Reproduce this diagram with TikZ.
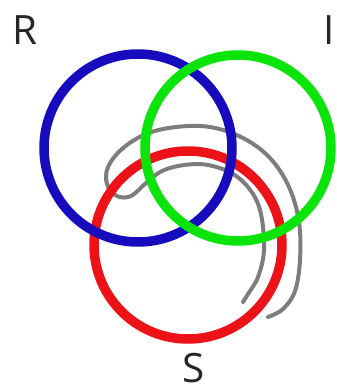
\documentclass[tikz,border=0pt]{standalone}
\usepackage{fontspec}
\setmainfont{Open Sans}
\definecolor{anelloR}{RGB}{22,12,190}
\definecolor{anelloI}{RGB}{10,228,10}
\definecolor{anelloS}{RGB}{236,18,24}
\definecolor{sinthome}{RGB}{125,125,125}
\begin{document}
\begin{tikzpicture}[x=0.02cm, y=-0.02cm,
    anello/.style={line width=0.19cm},
    lettera/.style={font=\fontsize{23}{27}\selectfont, text=black!85, inner sep=0pt}]
    \useasboundingbox (0,0) rectangle (337,392);

    % Sinthome (curva grigia)
    \draw[sinthome, line width=0.08cm, line cap=round]
        plot[smooth, tension=0.6] coordinates {(268,317) (283,309) (295,291) (300,260) (299,222)
        (289,187) (270,158) (243,138) (210,127) (176,127) (146,134) (122,149) (108,167)
        (107,184) (117,196) (131,196) (146,183) (162,171) (184,165) (208,165) (233,174)
        (251,191) (261,214) (264,250) (258,277) (248,294) (243,302)};

    % Anelli
    \draw[anelloS, anello] (188,245) circle (94);
    \draw[anelloR, anello] (138,148) circle (94);
    \draw[anelloI, anello] (238,148) circle (93);

    % Etichette
    \node[lettera] (R) at (25,30) {R};
    \node[lettera] (S) at (194,368) {S};
    \node[lettera, anchor=east] (I) at (335,30) {I};
\end{tikzpicture}
\end{document}
